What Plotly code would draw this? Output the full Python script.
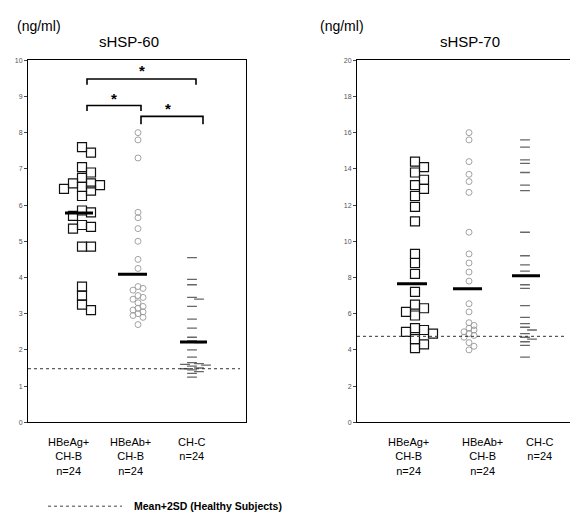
import plotly.graph_objects as go

# ---------------- data ----------------
groups = ["HBeAg+<br>CH-B<br>n=24", "HBeAb+<br>CH-B<br>n=24", "CH-C<br>n=24"]

hsp60_hbeag = [7.6, 7.45, 7.05, 6.9, 6.75, 6.6, 6.6, 6.55, 6.5, 6.45, 6.4, 6.25,
               5.85, 5.8, 5.7, 5.45, 5.4, 5.35, 4.85, 4.85, 3.75, 3.5, 3.25, 3.1]
hsp60_hbeab = [8.0, 7.8, 7.3, 5.8, 5.65, 5.35, 5.0, 4.5, 4.25, 3.75, 3.7, 3.65,
               3.5, 3.45, 3.4, 3.3, 3.2, 3.15, 3.1, 3.05, 3.0, 2.95, 2.9, 2.7]
hsp60_chc = [4.55, 3.95, 3.8, 3.45, 3.4, 3.2, 2.85, 2.6, 2.35, 2.25, 2.2, 2.0,
             1.8, 1.65, 1.62, 1.6, 1.58, 1.55, 1.5, 1.48, 1.45, 1.4, 1.35, 1.25]
hsp60_means = [5.78, 4.09, 2.22]
hsp60_cutoff = 1.48

hsp70_hbeag = [14.4, 14.1, 13.8, 13.4, 13.1, 12.9, 12.5, 11.9, 11.1, 9.3, 8.8, 8.2,
               7.2, 6.5, 6.3, 6.1, 5.9, 5.2, 5.1, 5.0, 4.9, 4.6, 4.3, 4.1]
hsp70_hbeab = [16.0, 15.6, 14.4, 13.7, 13.3, 12.7, 10.5, 9.3, 8.8, 8.3, 7.8, 6.55,
               6.1, 5.5, 5.35, 5.2, 5.1, 5.0, 4.9, 4.8, 4.7, 4.4, 4.2, 4.0]
hsp70_chc = [15.6, 15.2, 14.5, 14.3, 13.8, 13.1, 12.8, 10.5, 9.2, 8.7, 8.35, 7.6,
             7.4, 6.45, 5.8, 5.45, 5.25, 5.1, 4.9, 4.7, 4.6, 4.45, 4.25, 3.6]
hsp70_means = [7.65, 7.38, 8.09]
hsp70_cutoff = 4.75

ticks60 = list(range(0, 11))
ticks70 = list(range(0, 21, 2))

# ---------------- layout helpers ----------------
W, H = 570, 522
TOP, BOT = 57, 424
L1, R1 = 28, 246
L2, R2 = 357, 570


def beeswarm(values, center, px_per_unit, diam, step, kmax=4):
    """Simple deterministic beeswarm: returns x positions (data units == px)."""
    order = sorted(range(len(values)), key=lambda i: -values[i])
    placed = []
    xs = [center] * len(values)
    for i in order:
        y = values[i] * px_per_unit
        best = None
        for k in range(kmax + 1):
            off = ((k + 1) // 2) * step * (1 if k % 2 else -1) if k else 0
            x = center + off
            dmin = min([((x - px) ** 2 + (y - py) ** 2) ** 0.5 for px, py in placed] or [1e9])
            if dmin >= diam:
                best = x
                break
            if best is None or dmin > best[1]:
                best = (x, dmin) if not isinstance(best, float) else best
        if isinstance(best, tuple):
            best = best[0]
        placed.append((best, y))
        xs[i] = best
    return xs


fig = go.Figure()

ppu60 = (BOT - TOP) / 10.0
ppu70 = (BOT - TOP) / 20.0

panels = [
    dict(xa="x", ya="y", data=[hsp60_hbeag, hsp60_hbeab, hsp60_chc], ppu=ppu60,
         centers=[54, 110, 164], mean_spans=[(37, 65), (90, 119), (152, 179)],
         means=hsp60_means, cutoff=hsp60_cutoff, width=R1 - L1),
    dict(xa="x2", ya="y2", data=[hsp70_hbeag, hsp70_hbeab, hsp70_chc], ppu=ppu70,
         centers=[58, 112, 168], mean_spans=[(40, 70), (96, 125), (155, 183)],
         means=hsp70_means, cutoff=hsp70_cutoff, width=R2 - L2),
]

styles = [
    dict(symbol="square-open", size=9, color="#111", lw=1.2, diam=7.5, step=9),
    dict(symbol="circle-open", size=6, color="#999", lw=0.9, diam=4.5, step=5),
    dict(symbol="line-ew", size=7, color="#666", lw=1.3, diam=3, step=7),
]

for p in panels:
    for vals, c, st in zip(p["data"], p["centers"], styles):
        xs = beeswarm(vals, c, p["ppu"], st["diam"], st["step"])
        fig.add_trace(go.Scatter(
            x=xs, y=vals, mode="markers", xaxis=p["xa"], yaxis=p["ya"],
            marker=dict(symbol=st["symbol"], size=st["size"], color=st["color"],
                        line=dict(color=st["color"], width=st["lw"])),
            showlegend=False, hoverinfo="y"))
    # mean bars
    for (a, b), m in zip(p["mean_spans"], p["means"]):
        fig.add_shape(type="line", xref=p["xa"], yref=p["ya"], x0=a, x1=b, y0=m, y1=m,
                      line=dict(color="black", width=3))
    # cutoff line
    fig.add_shape(type="line", xref=p["xa"], yref=p["ya"], x0=0, x1=p["width"] - 6,
                  y0=p["cutoff"], y1=p["cutoff"],
                  line=dict(color="#333", width=1, dash="dot"))

# significance brackets (left panel)
brackets = [(59, 168, 9.48, 9.32, 113.5, 9.72),
            (59, 113, 8.75, 8.6, 86, 8.95),
            (113, 175, 8.45, 8.23, 140, 8.66)]
for x0, x1, yb, yl, xs_, ys_ in brackets:
    fig.add_trace(go.Scatter(x=[x0, x0, x1, x1], y=[yl, yb, yb, yl], mode="lines",
                             xaxis="x", yaxis="y", line=dict(color="black", width=1.6),
                             showlegend=False, hoverinfo="skip"))
    fig.add_annotation(x=xs_, y=ys_, xref="x", yref="y", text="<b>*</b>", showarrow=False,
                       yanchor="middle",
                       font=dict(size=15, color="black", family="Liberation Sans"))

axis_common = dict(showgrid=False, zeroline=False, showline=True, linecolor="black",
                   linewidth=1)

fig.update_layout(
    width=W, height=H, margin=dict(l=0, r=0, t=0, b=0),
    paper_bgcolor="white", plot_bgcolor="white",
    font=dict(family="Liberation Sans, Arial", color="black"),
    xaxis=dict(domain=[L1 / W, R1 / W], range=[0, R1 - L1], showticklabels=False,
               ticks="", mirror=True, **axis_common),
    yaxis=dict(domain=[1 - BOT / H, 1 - TOP / H], range=[0, 10], tickvals=ticks60,
               ticks="outside", ticklen=3, tickfont=dict(size=7, color="#555"),
               mirror=True, **axis_common),
    xaxis2=dict(domain=[L2 / W, R2 / W], range=[0, R2 - L2], showticklabels=False,
                ticks="", mirror=True, anchor="y2", **axis_common),
    yaxis2=dict(domain=[1 - BOT / H, 1 - TOP / H], range=[0, 20], tickvals=ticks70,
                ticks="outside", ticklen=3, tickfont=dict(size=7, color="#555"),
                anchor="x2", mirror=False, **axis_common),
)

# category labels
label_pos = [(L1 + 40, L1 + 102, L1 + 164), (L2 + 51, L2 + 125, L2 + 183)]
for xs in label_pos:
    for x, g in zip(xs, groups):
        fig.add_annotation(x=x / W, y=1 - 436 / H, xref="paper", yref="paper",
                           text=g, showarrow=False, yanchor="top", xanchor="center",
                           font=dict(size=11, color="black"))

# titles
for x, t in [(39, "(ng/ml)"), (342, "(ng/ml)")]:
    fig.add_annotation(x=x / W, y=1 - 22 / H, xref="paper", yref="paper", text=t,
                       showarrow=False, yanchor="middle", xanchor="center",
                       font=dict(size=14))
for x, t in [(129, "sHSP-60"), (470, "sHSP-70")]:
    fig.add_annotation(x=x / W, y=1 - 38 / H, xref="paper", yref="paper", text=t,
                       showarrow=False, yanchor="middle", xanchor="center",
                       font=dict(size=15))

# legend
fig.add_shape(type="line", xref="paper", yref="paper", x0=48 / W, x1=122 / W,
              y0=1 - 509 / H, y1=1 - 509 / H, line=dict(color="#444", width=1, dash="dot"))
fig.add_annotation(x=132 / W, y=1 - 509 / H, xref="paper", yref="paper",
                   text="<b>Mean+2SD (Healthy Subjects)</b>", showarrow=False,
                   xanchor="left", yanchor="middle", font=dict(size=10.5))

fig.write_html("out.html", config={"displayModeBar": False},
               post_script="document.body.style.margin='0';"
                           "document.body.style.overflow='hidden';")
